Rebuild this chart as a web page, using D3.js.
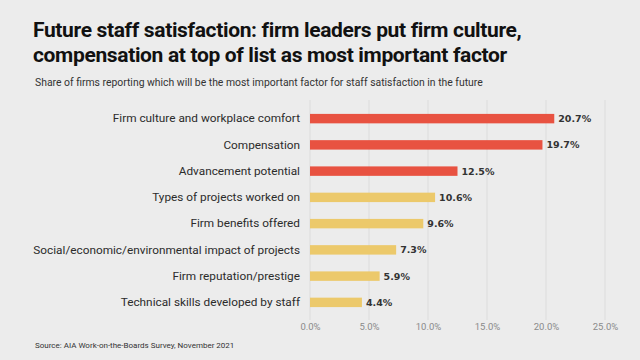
<!DOCTYPE html>
<html>
<head>
<meta charset="utf-8">
<script src="https://cdn.jsdelivr.net/npm/d3@7/dist/d3.min.js"></script>
<style>
  html, body { margin: 0; padding: 0; background: #ececec; }
  svg { display: block; }
</style>
</head>
<body>
<svg id="chart" width="640" height="360"></svg>
<script>
const titleLines = [
  "Future staff satisfaction: firm leaders put firm culture,",
  "compensation at top of list as most important factor"
];
const subtitle = "Share of firms reporting which will be the most important factor for staff satisfaction in the future";
const source = "Source: AIA Work-on-the-Boards Survey, November 2021";

const categories = [
  "Firm culture and workplace comfort",
  "Compensation",
  "Advancement potential",
  "Types of projects worked on",
  "Firm benefits offered",
  "Social/economic/environmental impact of projects",
  "Firm reputation/prestige",
  "Technical skills developed by staff"
];
const values = [20.7, 19.7, 12.5, 10.6, 9.6, 7.3, 5.9, 4.4];
const groups = ["top", "top", "top", "other", "other", "other", "other", "other"];
const xTicks = [0, 5, 10, 15, 20, 25];

const colors = { top: "#e85241", other: "#ecc96b" };

const svg = d3.select("#chart");
svg.append("rect").attr("width", 640).attr("height", 360).attr("fill", "#ececec");

const x = d3.scaleLinear().domain([0, 25]).range([310, 605]);
const y = d3.scaleBand().domain(categories).range([105.5, 315.5]).paddingInner(0.64).paddingOuter(0.32);

// title
const title = svg.append("text")
  .attr("x", 33).attr("y", 37)
  .attr("font-family", "Roboto, sans-serif")
  .attr("font-weight", 700)
  .attr("font-size", 21)
  .attr("letter-spacing", -0.35)
  .attr("fill", "#111");
titleLines.forEach((t, i) => {
  title.append("tspan").attr("x", 33).attr("y", 37 + i * 25).text(t);
});

svg.append("text")
  .attr("x", 35).attr("y", 86)
  .attr("font-family", "Roboto, sans-serif")
  .attr("font-size", 10.4)
  .attr("fill", "#333")
  .text(subtitle);

// gridlines
svg.append("g").selectAll("line").data(xTicks).join("line")
  .attr("x1", d => x(d)).attr("x2", d => x(d))
  .attr("y1", 100).attr("y2", 320)
  .attr("stroke", "#dcdcdc").attr("stroke-width", 1);

// x axis tick labels
const xAxis = d3.axisBottom(x).tickValues(xTicks).tickFormat(d => d3.format(".1f")(d) + "%").tickSize(0).tickPadding(0);
const gx = svg.append("g").attr("transform", "translate(0,323)").call(xAxis);
gx.select(".domain").remove();
gx.selectAll("text")
  .attr("font-family", "Roboto, sans-serif")
  .attr("font-size", 9.5)
  .attr("fill", "#8a8a8a");

// y axis labels
const yAxis = d3.axisLeft(y).tickSize(0).tickPadding(0);
const gy = svg.append("g").attr("transform", "translate(300,0)").call(yAxis);
gy.select(".domain").remove();
gy.selectAll("text")
  .attr("font-family", "Roboto, sans-serif")
  .attr("font-size", 11.8)
  .attr("fill", "#2b2b2b");

// bars
svg.append("g").selectAll("rect").data(categories).join("rect")
  .attr("x", x(0))
  .attr("y", d => y(d))
  .attr("width", (d, i) => x(values[i]) - x(0))
  .attr("height", y.bandwidth())
  .attr("fill", (d, i) => colors[groups[i]]);

// value labels
svg.append("g").selectAll("text").data(categories).join("text")
  .attr("x", (d, i) => x(values[i]) + 4)
  .attr("y", d => y(d) + y.bandwidth() / 2)
  .attr("dy", "0.36em")
  .attr("font-family", "'DejaVu Sans', sans-serif")
  .attr("font-weight", 700)
  .attr("font-size", 9.5)
  .attr("fill", "#333")
  .text((d, i) => d3.format(".1f")(values[i]) + "%");

svg.append("text")
  .attr("x", 35).attr("y", 348)
  .attr("font-family", "Roboto, sans-serif")
  .attr("font-size", 8)
  .attr("fill", "#333")
  .text(source);
</script>
</body>
</html>
